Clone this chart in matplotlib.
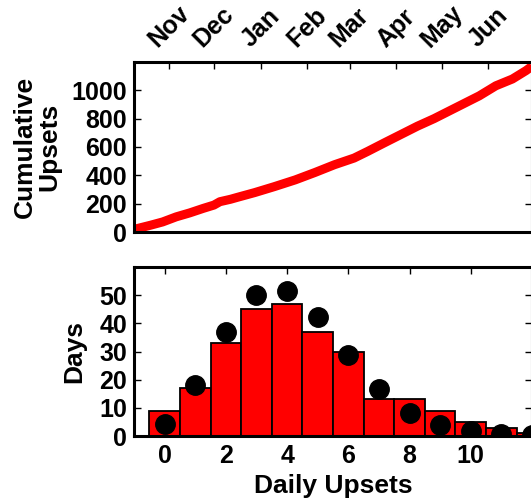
import datetime as dt
import matplotlib
matplotlib.use("Agg")
import matplotlib.pyplot as plt
import matplotlib.dates as mdates

# Cumulative upset count, sampled along the season (days after start date)
start_date = dt.date(2012, 10, 9)
span_days = 264
day_offsets = [0, 2, 11, 19, 28, 37, 46, 53, 57, 64, 69, 80, 93, 107, 120, 133,
               146, 155, 166, 177, 188, 199, 207, 218, 229, 240, 251, 260, 264]
cumulative = [8, 24, 48, 71, 107, 135, 167, 190, 214, 231, 246, 278, 320, 368,
              420, 475, 522, 569, 629, 688, 747, 800, 843, 902, 961, 1032, 1080,
              1139, 1170]

# Histogram of daily upsets and the fitted expectation
daily_upsets = [0, 1, 2, 3, 4, 5, 6, 7, 8, 9, 10, 11, 12]
days_observed = [9, 17, 33, 45, 47, 37, 30, 13, 13, 9, 5, 3, 1]
days_expected = [4.4, 18.1, 37.1, 50.2, 51.4, 42.1, 28.8, 16.7, 8.3, 4.0, 1.8, 0.8, 0.3]

plt.rcParams["font.family"] = ["Liberation Sans", "DejaVu Sans"]
plt.rcParams["font.weight"] = "bold"
plt.rcParams["axes.labelweight"] = "bold"

W, H = 531, 501
fig = plt.figure(figsize=(W / 100, H / 100), dpi=100)

def px_axes(left, top, right, bottom):
    return fig.add_axes([left / W, 1 - bottom / H, (right - left) / W, (bottom - top) / H])

ax1 = px_axes(134, 62, 532, 232)
ax2 = px_axes(134, 267, 532, 436)

for ax in (ax1, ax2):
    for sp in ax.spines.values():
        sp.set_linewidth(2.2)
    ax.tick_params(direction="in", length=5, width=1, labelsize=18)

# Top panel: cumulative upsets over time
dates = [start_date + dt.timedelta(days=d) for d in day_offsets]
ax1.plot(dates, cumulative, color="red", linewidth=6.5, solid_capstyle="butt")
ax1.set_xlim(start_date, start_date + dt.timedelta(days=span_days))
ax1.set_ylim(0, 1200)
ax1.set_yticks([0, 200, 400, 600, 800, 1000])
ax1.xaxis.set_major_locator(mdates.MonthLocator())
ax1.xaxis.set_major_formatter(mdates.DateFormatter("%b"))
ax1.xaxis.tick_top()
ax1.tick_params(axis="x", which="both", top=True, bottom=False, pad=7.5)
ax1.tick_params(axis="y", left=True, right=True, pad=5)
for lab in ax1.get_xticklabels():
    lab.set_rotation(45)
    lab.set_horizontalalignment("center")
ax1.set_ylabel("Cumulative\nUpsets", fontsize=19, fontweight="bold",
               linespacing=1.05, labelpad=7)

# Bottom panel: distribution of daily upsets
ax2.bar(daily_upsets, days_observed, width=1.0, color="red", edgecolor="black",
        linewidth=1.3, zorder=2)
ax2.plot(daily_upsets, days_expected, "o", color="black", markersize=14, zorder=3)
ax2.set_xlim(-1, 12)
ax2.set_ylim(0, 60)
ax2.set_xticks([0, 2, 4, 6, 8, 10])
ax2.set_yticks([0, 10, 20, 30, 40, 50])
ax2.tick_params(axis="x", top=True, bottom=True, pad=6)
ax2.tick_params(axis="y", left=True, right=True, pad=5)
ax2.set_xlabel("Daily Upsets", fontsize=19, fontweight="bold")
ax2.set_ylabel("Days", fontsize=19, fontweight="bold", labelpad=9)

fig.savefig("out.png", dpi=100)
